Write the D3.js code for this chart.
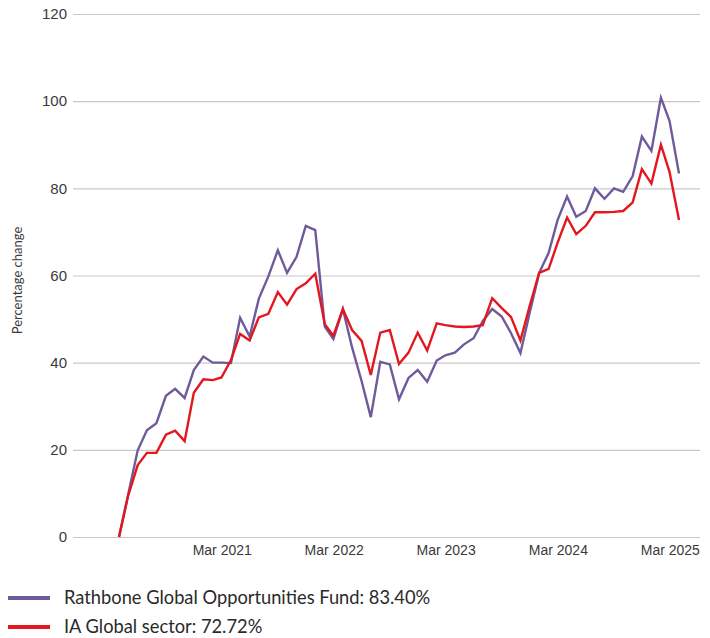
<!DOCTYPE html>
<html>
<head>
<meta charset="utf-8">
<script src="https://cdn.jsdelivr.net/npm/d3@7"></script>
<style>
  html, body { margin: 0; padding: 0; background: #fff; }
  svg { display: block; font-family: Lato, "Open Sans", sans-serif; }
</style>
</head>
<body>
<svg id="chart" width="710" height="638"></svg>
<script>
// Month-end dates: Mar 2020 .. Mar 2025 (61 monthly points)
const startMonth = { year: 2020, month: 2 }; // March (0-based)
const fundValues = [
  0, 9.8, 19.9, 24.5, 26.1, 32.4, 34.0, 31.9, 38.3, 41.4,
  40.0, 40.0, 39.9, 50.3, 46.0, 54.7, 59.8, 65.8, 60.6, 64.3,
  71.4, 70.4, 48.3, 45.4, 52.3, 43.5, 35.8, 27.5, 40.2, 39.6,
  31.6, 36.5, 38.3, 35.6, 40.5, 41.7, 42.3, 44.2, 45.6, 49.5,
  52.3, 50.6, 46.8, 42.2, 51.4, 60.6, 65.2, 72.7, 78.1, 73.5,
  74.8, 80.0, 77.6, 80.0, 79.2, 82.8, 91.9, 88.6, 100.8, 95.5,
  83.4
];
const sectorValues = [
  0, 9.5, 16.5, 19.3, 19.3, 23.5, 24.4, 22.0, 33.1, 36.2,
  36.0, 36.6, 40.6, 46.6, 45.1, 50.4, 51.2, 56.2, 53.3, 56.9,
  58.2, 60.4, 48.8, 46.2, 52.3, 47.5, 45.0, 37.2, 46.9, 47.5,
  39.7, 42.3, 46.9, 42.8, 49.0, 48.6, 48.3, 48.2, 48.3, 48.6,
  54.8, 52.5, 50.5, 45.1, 53.0, 60.6, 61.5, 67.5, 73.3, 69.5,
  71.4, 74.5, 74.5, 74.6, 74.8, 76.8, 84.4, 81.1, 90.0, 83.8,
  72.72
];
const yTicks = [0, 20, 40, 60, 80, 100, 120];
const xTickLabels = ["Mar 2021", "Mar 2022", "Mar 2023", "Mar 2024", "Mar 2025"];
const xTickYears = [2021, 2022, 2023, 2024, 2025];
const seriesNames = ["Rathbone Global Opportunities Fund: 83.40%", "IA Global sector: 72.72%"];
const seriesColors = ["#6f5b9c", "#e3171f"];
const yTitle = "Percentage change";

// month-end dates
const dates = fundValues.map((_, i) => new Date(startMonth.year, startMonth.month + i + 1, 0));
const rows = dates.map((d, i) => ({ date: d, fund: fundValues[i], sector: sectorValues[i] }));

const svg = d3.select("#chart");
const gridLeft = 73, gridRight = 700;
const x = d3.scaleTime()
  .domain([dates[0], dates[dates.length - 1]])
  .range([119, 679]);
const y = d3.scaleLinear().domain([0, 120]).range([537, 14]);

// gridlines + y labels
const yAxis = d3.axisLeft(y).tickValues(yTicks).tickSize(0).tickPadding(6)
  .tickFormat(d3.format("d"));
const gy = svg.append("g").attr("transform", `translate(${gridLeft},0)`).call(yAxis);
gy.select(".domain").remove();
gy.selectAll(".tick text").attr("font-size", 15).attr("fill", "#3a3a3a");
gy.selectAll(".tick").append("line")
  .attr("x1", 0).attr("x2", gridRight - gridLeft)
  .attr("stroke", "#c8c8c8").attr("stroke-width", 1.2);

// x labels
const xAxis = d3.axisBottom(x)
  .tickValues(xTickYears.map(yr => new Date(yr, 2, 1)))
  .tickFormat((d, i) => xTickLabels[i])
  .tickSize(0).tickPadding(8);
const gx = svg.append("g").attr("transform", `translate(0,${y(0)})`).call(xAxis);
gx.select(".domain").remove();
gx.selectAll(".tick text").attr("font-size", 14).attr("fill", "#3a3a3a");

// y title
svg.append("text")
  .attr("transform", `translate(22,${(y(0) + y(120)) / 2 + 5}) rotate(-90)`)
  .attr("text-anchor", "middle")
  .attr("font-size", 13).attr("fill", "#3a3a3a")
  .text(yTitle);

// lines
const lineGen = k => d3.line().x(d => x(d.date)).y(d => y(d[k]));
["fund", "sector"].forEach((k, i) => {
  svg.append("path").datum(rows)
    .attr("fill", "none")
    .attr("stroke", seriesColors[i])
    .attr("stroke-width", 2.4)
    .attr("stroke-linejoin", "miter")
    .attr("d", lineGen(k));
});

// legend
const legY = [598, 627];
seriesNames.forEach((name, i) => {
  svg.append("line")
    .attr("x1", 8).attr("x2", 50)
    .attr("y1", legY[i]).attr("y2", legY[i])
    .attr("stroke", seriesColors[i]).attr("stroke-width", 4);
  svg.append("text")
    .attr("x", 64).attr("y", legY[i] + 6)
    .attr("font-size", 18.3).attr("fill", "#2a2a2a")
    .text(name);
});
</script>
</body>
</html>
